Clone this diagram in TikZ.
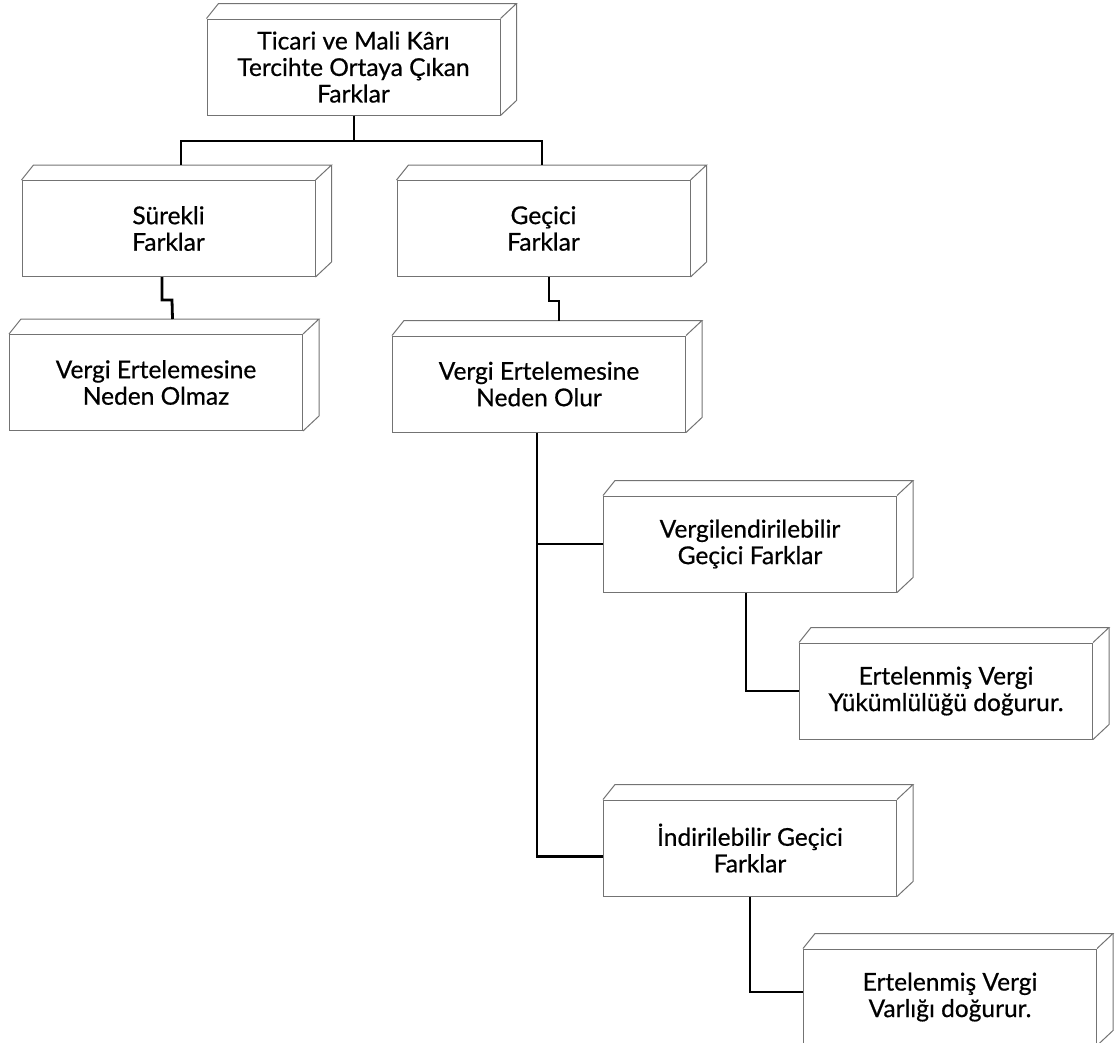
\documentclass[tikz,border=0pt]{standalone}
\usepackage{fontspec}
\setmainfont{Lato}[BoldFont={Lato}, BoldFeatures={FakeBold=0.6}]
\usetikzlibrary{calc}
\begin{document}
\begin{tikzpicture}[x=1pt,y=-1pt,
  box/.style={draw=black!55, line width=1pt, minimum width=293pt, minimum height=96pt,
    inner sep=0pt, align=center, font=\fontsize{24.5}{26.5}\selectfont\bfseries},
  face/.style={draw=black!55, line width=1pt, line join=miter},
  conn/.style={draw=black, line width=2.8pt, line cap=butt, line join=miter}]
\useasboundingbox (0,0) rectangle (1115,1042);

\node[box] (top)   at (353.5,67)  {Ticari ve Mali Kârı\\Tercihte Ortaya Çıkan\\Farklar};
\node[box] (sur)   at (168.5,228.5) {Sürekli\\Farklar};
\node[box] (gec)   at (543.5,228.5) {Geçici\\Farklar};
\node[box] (olmaz) at (156,382.5) {Vergi Ertelemesine\\Neden Olmaz};
\node[box] (olur)  at (539,384)   {Vergi Ertelemesine\\Neden Olur};
\node[box] (verg)  at (750,544)   {Vergilendirilebilir\\Geçici Farklar};
\node[box] (yuk)   at (946,691)   {Ertelenmiş Vergi\\Yükümlülüğü doğurur.};
\node[box] (ind)   at (750,848)   {İndirilebilir Geçici\\Farklar};
\node[box] (var)   at (950,997)   {Ertelenmiş Vergi\\Varlığı doğurur.};

\foreach \n in {top,sur,gec,olmaz,olur,verg,yuk,ind,var}{
  \draw[face] (\n.north west) -- ($(\n.north west)+(12,-15)$) -- ($(\n.north east)+(16,-15)$)
    -- (\n.north east);
  \draw[face] ($(\n.north east)+(16,-15)$) -- ($(\n.south east)+(16,-15)$) -- (\n.south east);
}

\coordinate (tl) at (181,141);
\coordinate (tr) at (542,141);
\draw[conn] ([xshift=0.5pt]top.south) |- (tl) -- ($(tl |- sur.north)+(0,-15)$);
\draw[conn] ([xshift=0.5pt]top.south) |- (tr) -- ($(tr |- gec.north)+(0,-15)$);

\draw[conn] ([xshift=-6.5pt]sur.south) -- ++(0,23) -- ++(10,0) -- ($(olmaz.north)+(16.5,-15)$);
\draw[conn] ([xshift=5.5pt]gec.south) -- ++(0,24) -- ++(10,0) -- ($(olur.north)+(20,-15)$);

\draw[conn] ([xshift=-2pt]olur.south) -- ++(0,424) coordinate (mb) -- (mb -| ind.west);
\draw[conn] (verg.west) -- (verg.west -| mb);

\draw[conn] ([xshift=-4pt]verg.south) |- (yuk.west);
\draw[conn] (ind.south) |- ([yshift=5pt]var.west);
\end{tikzpicture}
\end{document}
